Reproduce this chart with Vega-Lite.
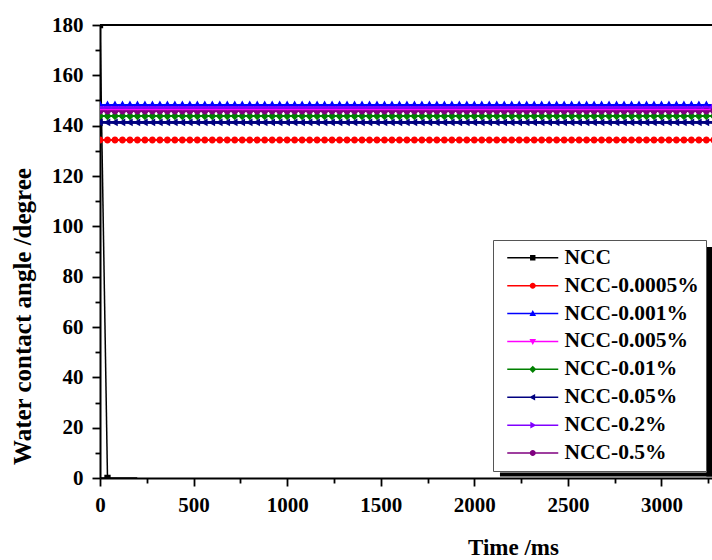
{
  "$schema": "https://vega.github.io/schema/vega-lite/v6.json",
  "width": 612,
  "height": 453,
  "autosize": {"type": "none"},
  "padding": {"left": 100, "top": 25, "right": 0, "bottom": 82},
  "background": "white",
  "config": {
    "view": {"stroke": null},
    "font": "Liberation Serif",
    "axis": {
      "domainColor": "black", "domainWidth": 2,
      "tickColor": "black", "tickWidth": 1.8,
      "labelColor": "black", "labelFont": "Liberation Serif", "labelFontWeight": "bold", "labelFontSize": 21,
      "titleFont": "Liberation Serif", "titleFontWeight": "bold", "titleColor": "black",
      "grid": false, "labelFlush": false, "labelOverlap": false, "format": "d", "zindex": 1
    }
  },
  "datasets": {
    "angles": [
      {"t": 0, "ncc": 180},
      {"t": 40, "ncc": 0},
      {"t":0,"p0005":134.3,"p001":148.3,"p005":146.3,"p01":143.8,"p05":141.3,"p2":147.2,"p5":145.8},
      {"t":40,"p0005":134.3,"p001":148.3,"p005":146.3,"p01":143.8,"p05":141.3,"p2":147.2,"p5":145.8},
      {"t":80,"p0005":134.3,"p001":148.3,"p005":146.3,"p01":143.8,"p05":141.3,"p2":147.2,"p5":145.8},
      {"t":120,"p0005":134.3,"p001":148.3,"p005":146.3,"p01":143.8,"p05":141.3,"p2":147.2,"p5":145.8},
      {"t":160,"p0005":134.3,"p001":148.3,"p005":146.3,"p01":143.8,"p05":141.3,"p2":147.2,"p5":145.8},
      {"t":200,"p0005":134.3,"p001":148.3,"p005":146.3,"p01":143.8,"p05":141.3,"p2":147.2,"p5":145.8},
      {"t":240,"p0005":134.3,"p001":148.3,"p005":146.3,"p01":143.8,"p05":141.3,"p2":147.2,"p5":145.8},
      {"t":280,"p0005":134.3,"p001":148.3,"p005":146.3,"p01":143.8,"p05":141.3,"p2":147.2,"p5":145.8},
      {"t":320,"p0005":134.3,"p001":148.3,"p005":146.3,"p01":143.8,"p05":141.3,"p2":147.2,"p5":145.8},
      {"t":360,"p0005":134.3,"p001":148.3,"p005":146.3,"p01":143.8,"p05":141.3,"p2":147.2,"p5":145.8},
      {"t":400,"p0005":134.3,"p001":148.3,"p005":146.3,"p01":143.8,"p05":141.3,"p2":147.2,"p5":145.8},
      {"t":440,"p0005":134.3,"p001":148.3,"p005":146.3,"p01":143.8,"p05":141.3,"p2":147.2,"p5":145.8},
      {"t":480,"p0005":134.3,"p001":148.3,"p005":146.3,"p01":143.8,"p05":141.3,"p2":147.2,"p5":145.8},
      {"t":520,"p0005":134.3,"p001":148.3,"p005":146.3,"p01":143.8,"p05":141.3,"p2":147.2,"p5":145.8},
      {"t":560,"p0005":134.3,"p001":148.3,"p005":146.3,"p01":143.8,"p05":141.3,"p2":147.2,"p5":145.8},
      {"t":600,"p0005":134.3,"p001":148.3,"p005":146.3,"p01":143.8,"p05":141.3,"p2":147.2,"p5":145.8},
      {"t":640,"p0005":134.3,"p001":148.3,"p005":146.3,"p01":143.8,"p05":141.3,"p2":147.2,"p5":145.8},
      {"t":680,"p0005":134.3,"p001":148.3,"p005":146.3,"p01":143.8,"p05":141.3,"p2":147.2,"p5":145.8},
      {"t":720,"p0005":134.3,"p001":148.3,"p005":146.3,"p01":143.8,"p05":141.3,"p2":147.2,"p5":145.8},
      {"t":760,"p0005":134.3,"p001":148.3,"p005":146.3,"p01":143.8,"p05":141.3,"p2":147.2,"p5":145.8},
      {"t":800,"p0005":134.3,"p001":148.3,"p005":146.3,"p01":143.8,"p05":141.3,"p2":147.2,"p5":145.8},
      {"t":840,"p0005":134.3,"p001":148.3,"p005":146.3,"p01":143.8,"p05":141.3,"p2":147.2,"p5":145.8},
      {"t":880,"p0005":134.3,"p001":148.3,"p005":146.3,"p01":143.8,"p05":141.3,"p2":147.2,"p5":145.8},
      {"t":920,"p0005":134.3,"p001":148.3,"p005":146.3,"p01":143.8,"p05":141.3,"p2":147.2,"p5":145.8},
      {"t":960,"p0005":134.3,"p001":148.3,"p005":146.3,"p01":143.8,"p05":141.3,"p2":147.2,"p5":145.8},
      {"t":1000,"p0005":134.3,"p001":148.3,"p005":146.3,"p01":143.8,"p05":141.3,"p2":147.2,"p5":145.8},
      {"t":1040,"p0005":134.3,"p001":148.3,"p005":146.3,"p01":143.8,"p05":141.3,"p2":147.2,"p5":145.8},
      {"t":1080,"p0005":134.3,"p001":148.3,"p005":146.3,"p01":143.8,"p05":141.3,"p2":147.2,"p5":145.8},
      {"t":1120,"p0005":134.3,"p001":148.3,"p005":146.3,"p01":143.8,"p05":141.3,"p2":147.2,"p5":145.8},
      {"t":1160,"p0005":134.3,"p001":148.3,"p005":146.3,"p01":143.8,"p05":141.3,"p2":147.2,"p5":145.8},
      {"t":1200,"p0005":134.3,"p001":148.3,"p005":146.3,"p01":143.8,"p05":141.3,"p2":147.2,"p5":145.8},
      {"t":1240,"p0005":134.3,"p001":148.3,"p005":146.3,"p01":143.8,"p05":141.3,"p2":147.2,"p5":145.8},
      {"t":1280,"p0005":134.3,"p001":148.3,"p005":146.3,"p01":143.8,"p05":141.3,"p2":147.2,"p5":145.8},
      {"t":1320,"p0005":134.3,"p001":148.3,"p005":146.3,"p01":143.8,"p05":141.3,"p2":147.2,"p5":145.8},
      {"t":1360,"p0005":134.3,"p001":148.3,"p005":146.3,"p01":143.8,"p05":141.3,"p2":147.2,"p5":145.8},
      {"t":1400,"p0005":134.3,"p001":148.3,"p005":146.3,"p01":143.8,"p05":141.3,"p2":147.2,"p5":145.8},
      {"t":1440,"p0005":134.3,"p001":148.3,"p005":146.3,"p01":143.8,"p05":141.3,"p2":147.2,"p5":145.8},
      {"t":1480,"p0005":134.3,"p001":148.3,"p005":146.3,"p01":143.8,"p05":141.3,"p2":147.2,"p5":145.8},
      {"t":1520,"p0005":134.3,"p001":148.3,"p005":146.3,"p01":143.8,"p05":141.3,"p2":147.2,"p5":145.8},
      {"t":1560,"p0005":134.3,"p001":148.3,"p005":146.3,"p01":143.8,"p05":141.3,"p2":147.2,"p5":145.8},
      {"t":1600,"p0005":134.3,"p001":148.3,"p005":146.3,"p01":143.8,"p05":141.3,"p2":147.2,"p5":145.8},
      {"t":1640,"p0005":134.3,"p001":148.3,"p005":146.3,"p01":143.8,"p05":141.3,"p2":147.2,"p5":145.8},
      {"t":1680,"p0005":134.3,"p001":148.3,"p005":146.3,"p01":143.8,"p05":141.3,"p2":147.2,"p5":145.8},
      {"t":1720,"p0005":134.3,"p001":148.3,"p005":146.3,"p01":143.8,"p05":141.3,"p2":147.2,"p5":145.8},
      {"t":1760,"p0005":134.3,"p001":148.3,"p005":146.3,"p01":143.8,"p05":141.3,"p2":147.2,"p5":145.8},
      {"t":1800,"p0005":134.3,"p001":148.3,"p005":146.3,"p01":143.8,"p05":141.3,"p2":147.2,"p5":145.8},
      {"t":1840,"p0005":134.3,"p001":148.3,"p005":146.3,"p01":143.8,"p05":141.3,"p2":147.2,"p5":145.8},
      {"t":1880,"p0005":134.3,"p001":148.3,"p005":146.3,"p01":143.8,"p05":141.3,"p2":147.2,"p5":145.8},
      {"t":1920,"p0005":134.3,"p001":148.3,"p005":146.3,"p01":143.8,"p05":141.3,"p2":147.2,"p5":145.8},
      {"t":1960,"p0005":134.3,"p001":148.3,"p005":146.3,"p01":143.8,"p05":141.3,"p2":147.2,"p5":145.8},
      {"t":2000,"p0005":134.3,"p001":148.3,"p005":146.3,"p01":143.8,"p05":141.3,"p2":147.2,"p5":145.8},
      {"t":2040,"p0005":134.3,"p001":148.3,"p005":146.3,"p01":143.8,"p05":141.3,"p2":147.2,"p5":145.8},
      {"t":2080,"p0005":134.3,"p001":148.3,"p005":146.3,"p01":143.8,"p05":141.3,"p2":147.2,"p5":145.8},
      {"t":2120,"p0005":134.3,"p001":148.3,"p005":146.3,"p01":143.8,"p05":141.3,"p2":147.2,"p5":145.8},
      {"t":2160,"p0005":134.3,"p001":148.3,"p005":146.3,"p01":143.8,"p05":141.3,"p2":147.2,"p5":145.8},
      {"t":2200,"p0005":134.3,"p001":148.3,"p005":146.3,"p01":143.8,"p05":141.3,"p2":147.2,"p5":145.8},
      {"t":2240,"p0005":134.3,"p001":148.3,"p005":146.3,"p01":143.8,"p05":141.3,"p2":147.2,"p5":145.8},
      {"t":2280,"p0005":134.3,"p001":148.3,"p005":146.3,"p01":143.8,"p05":141.3,"p2":147.2,"p5":145.8},
      {"t":2320,"p0005":134.3,"p001":148.3,"p005":146.3,"p01":143.8,"p05":141.3,"p2":147.2,"p5":145.8},
      {"t":2360,"p0005":134.3,"p001":148.3,"p005":146.3,"p01":143.8,"p05":141.3,"p2":147.2,"p5":145.8},
      {"t":2400,"p0005":134.3,"p001":148.3,"p005":146.3,"p01":143.8,"p05":141.3,"p2":147.2,"p5":145.8},
      {"t":2440,"p0005":134.3,"p001":148.3,"p005":146.3,"p01":143.8,"p05":141.3,"p2":147.2,"p5":145.8},
      {"t":2480,"p0005":134.3,"p001":148.3,"p005":146.3,"p01":143.8,"p05":141.3,"p2":147.2,"p5":145.8},
      {"t":2520,"p0005":134.3,"p001":148.3,"p005":146.3,"p01":143.8,"p05":141.3,"p2":147.2,"p5":145.8},
      {"t":2560,"p0005":134.3,"p001":148.3,"p005":146.3,"p01":143.8,"p05":141.3,"p2":147.2,"p5":145.8},
      {"t":2600,"p0005":134.3,"p001":148.3,"p005":146.3,"p01":143.8,"p05":141.3,"p2":147.2,"p5":145.8},
      {"t":2640,"p0005":134.3,"p001":148.3,"p005":146.3,"p01":143.8,"p05":141.3,"p2":147.2,"p5":145.8},
      {"t":2680,"p0005":134.3,"p001":148.3,"p005":146.3,"p01":143.8,"p05":141.3,"p2":147.2,"p5":145.8},
      {"t":2720,"p0005":134.3,"p001":148.3,"p005":146.3,"p01":143.8,"p05":141.3,"p2":147.2,"p5":145.8},
      {"t":2760,"p0005":134.3,"p001":148.3,"p005":146.3,"p01":143.8,"p05":141.3,"p2":147.2,"p5":145.8},
      {"t":2800,"p0005":134.3,"p001":148.3,"p005":146.3,"p01":143.8,"p05":141.3,"p2":147.2,"p5":145.8},
      {"t":2840,"p0005":134.3,"p001":148.3,"p005":146.3,"p01":143.8,"p05":141.3,"p2":147.2,"p5":145.8},
      {"t":2880,"p0005":134.3,"p001":148.3,"p005":146.3,"p01":143.8,"p05":141.3,"p2":147.2,"p5":145.8},
      {"t":2920,"p0005":134.3,"p001":148.3,"p005":146.3,"p01":143.8,"p05":141.3,"p2":147.2,"p5":145.8},
      {"t":2960,"p0005":134.3,"p001":148.3,"p005":146.3,"p01":143.8,"p05":141.3,"p2":147.2,"p5":145.8},
      {"t":3000,"p0005":134.3,"p001":148.3,"p005":146.3,"p01":143.8,"p05":141.3,"p2":147.2,"p5":145.8},
      {"t":3040,"p0005":134.3,"p001":148.3,"p005":146.3,"p01":143.8,"p05":141.3,"p2":147.2,"p5":145.8},
      {"t":3080,"p0005":134.3,"p001":148.3,"p005":146.3,"p01":143.8,"p05":141.3,"p2":147.2,"p5":145.8},
      {"t":3120,"p0005":134.3,"p001":148.3,"p005":146.3,"p01":143.8,"p05":141.3,"p2":147.2,"p5":145.8},
      {"t":3160,"p0005":134.3,"p001":148.3,"p005":146.3,"p01":143.8,"p05":141.3,"p2":147.2,"p5":145.8},
      {"t":3200,"p0005":134.3,"p001":148.3,"p005":146.3,"p01":143.8,"p05":141.3,"p2":147.2,"p5":145.8},
      {"t":3240,"p0005":134.3,"p001":148.3,"p005":146.3,"p01":143.8,"p05":141.3,"p2":147.2,"p5":145.8},
      {"t":3280,"p0005":134.3,"p001":148.3,"p005":146.3,"p01":143.8,"p05":141.3,"p2":147.2,"p5":145.8}
    ]
  },
  "resolve": {"axis": {"x": "independent", "y": "independent"}},
  "layer": [
    {
      "data": {"values": [{}]},
      "mark": {"type": "rule", "color": "black", "strokeWidth": 2},
      "encoding": {
        "y": {
          "datum": 180, "type": "quantitative",
          "scale": {"domain": [0, 180], "nice": false, "zero": false},
          "axis": {
            "orient": "left", "values": [10, 30, 50, 70, 90, 110, 130, 150, 170],
            "tickSize": 5, "labels": false, "domain": false, "title": null
          }
        }
      }
    },
    {
      "data": {"name": "angles"},
      "transform": [
        {"fold": ["ncc", "p0005", "p001", "p005", "p01", "p05", "p2", "p5"], "as": ["key", "v"]},
        {"filter": "isValid(datum.v)"}
      ],
      "mark": {"type": "line", "strokeWidth": 1.5, "clip": true},
      "encoding": {
        "x": {
          "field": "t", "type": "quantitative",
          "scale": {"domain": [0, 3270], "nice": false, "zero": false},
          "axis": {
            "orient": "bottom", "values": [0, 500, 1000, 1500, 2000, 2500, 3000],
            "tickSize": 8, "labelPadding": 8,
            "title": "Time /ms", "titleFontSize": 23,
            "titleX": 413, "titleY": 76, "titleAlign": "center", "titleBaseline": "alphabetic", "titleAnchor": null
          }
        },
        "y": {
          "field": "v", "type": "quantitative",
          "axis": {
            "orient": "left", "values": [0, 20, 40, 60, 80, 100, 120, 140, 160, 180],
            "tickSize": 8, "labelPadding": 9,
            "title": "Water contact angle /degree", "titleFontSize": 25,
            "titleX": -70, "titleY": 291, "titleAngle": -90, "titleAlign": "center", "titleBaseline": "alphabetic", "titleAnchor": null
          }
        },
        "stroke": {
          "field": "key", "type": "nominal",
          "scale": {
            "domain": ["ncc", "p0005", "p001", "p005", "p01", "p05", "p2", "p5"],
            "range": ["#000000", "#ff0000", "#0000ff", "#ff00ff", "#008000", "#000080", "#8000ff", "#800080"]
          },
          "legend": {
            "title": null, "orient": "none", "legendX": 393, "legendY": 215,
            "padding": 7, "symbolOffset": 22, "labelOffset": 21,
            "symbolSize": 36, "symbolStrokeWidth": 0, "rowPadding": 4.9,
            "fillColor": "white", "strokeColor": "#555555",
            "labelFont": "Liberation Serif", "labelFontWeight": "bold", "labelFontSize": 21.5,
            "labelColor": "black", "labelLimit": 300,
            "labelExpr": "datum.value == 'ncc' ? 'NCC' : datum.value == 'p0005' ? 'NCC-0.0005%' : datum.value == 'p001' ? 'NCC-0.001%' : datum.value == 'p005' ? 'NCC-0.005%' : datum.value == 'p01' ? 'NCC-0.01%' : datum.value == 'p05' ? 'NCC-0.05%' : datum.value == 'p2' ? 'NCC-0.2%' : 'NCC-0.5%'"
          }
        }
      }
    },
    {
      "data": {"name": "angles"},
      "transform": [
        {"fold": ["ncc", "p0005", "p001", "p005", "p01", "p05", "p2", "p5"], "as": ["key", "v"]},
        {"filter": "isValid(datum.v)"}
      ],
      "mark": {"type": "point", "filled": true, "opacity": 1, "size": 49, "clip": true},
      "encoding": {
        "x": {
          "field": "t", "type": "quantitative",
          "axis": {
            "orient": "bottom", "values": [250, 750, 1250, 1750, 2250, 2750, 3250],
            "tickSize": 5, "labels": false, "domain": false, "title": null
          }
        },
        "y": {"field": "v", "type": "quantitative", "axis": null},
        "color": {
          "field": "key", "type": "nominal",
          "scale": {
            "domain": ["ncc", "p0005", "p001", "p005", "p01", "p05", "p2", "p5"],
            "range": ["#000000", "#ff0000", "#0000ff", "#ff00ff", "#008000", "#000080", "#8000ff", "#800080"]
          },
          "legend": {
            "title": null, "orient": "none", "legendX": 393, "legendY": 215,
            "padding": 7, "symbolOffset": 22, "labelOffset": 21,
            "symbolSize": 36, "symbolStrokeWidth": 0, "rowPadding": 4.9,
            "fillColor": "white", "strokeColor": "#555555",
            "labelFont": "Liberation Serif", "labelFontWeight": "bold", "labelFontSize": 21.5,
            "labelColor": "black", "labelLimit": 300,
            "labelExpr": "datum.value == 'ncc' ? 'NCC' : datum.value == 'p0005' ? 'NCC-0.0005%' : datum.value == 'p001' ? 'NCC-0.001%' : datum.value == 'p005' ? 'NCC-0.005%' : datum.value == 'p01' ? 'NCC-0.01%' : datum.value == 'p05' ? 'NCC-0.05%' : datum.value == 'p2' ? 'NCC-0.2%' : 'NCC-0.5%'"
          }
        },
        "shape": {
          "field": "key", "type": "nominal",
          "scale": {
            "domain": ["ncc", "p0005", "p001", "p005", "p01", "p05", "p2", "p5"],
            "range": [
              "M-8.5,-0.25H8.5V0.25H-8.5ZM-0.9,-0.9H0.9V0.9H-0.9Z",
              "M-8.5,-0.25H8.5V0.25H-8.5ZM-1,0A1,1 0 1,1 1,0A1,1 0 1,1 -1,0Z",
              "M-8.5,-0.25H8.5V0.25H-8.5ZM0,-1.2L1.1,0.8H-1.1Z",
              "M-8.5,-0.25H8.5V0.25H-8.5ZM0,1.2L-1.1,-0.8H1.1Z",
              "M-8.5,-0.25H8.5V0.25H-8.5ZM0,-1.2L1.2,0L0,1.2L-1.2,0Z",
              "M-8.5,-0.25H8.5V0.25H-8.5ZM-1.2,0L0.8,-1.1V1.1Z",
              "M-8.5,-0.25H8.5V0.25H-8.5ZM1.2,0L-0.8,1.1V-1.1Z",
              "M-8.5,-0.25H8.5V0.25H-8.5ZM-1,0A1,1 0 1,1 1,0A1,1 0 1,1 -1,0Z"
            ]
          },
          "legend": {
            "title": null, "orient": "none", "legendX": 393, "legendY": 215,
            "padding": 7, "symbolOffset": 22, "labelOffset": 21,
            "symbolSize": 36, "symbolStrokeWidth": 0, "rowPadding": 4.9,
            "fillColor": "white", "strokeColor": "#555555",
            "labelFont": "Liberation Serif", "labelFontWeight": "bold", "labelFontSize": 21.5,
            "labelColor": "black", "labelLimit": 300,
            "labelExpr": "datum.value == 'ncc' ? 'NCC' : datum.value == 'p0005' ? 'NCC-0.0005%' : datum.value == 'p001' ? 'NCC-0.001%' : datum.value == 'p005' ? 'NCC-0.005%' : datum.value == 'p01' ? 'NCC-0.01%' : datum.value == 'p05' ? 'NCC-0.05%' : datum.value == 'p2' ? 'NCC-0.2%' : 'NCC-0.5%'"
          }
        }
      }
    },
    {
      "data": {"values": [{}]},
      "mark": {"type": "rect", "color": "black"},
      "encoding": {
        "x": {"datum": 2137, "type": "quantitative", "axis": null},
        "x2": {"datum": 3270},
        "y": {"datum": 0.6, "type": "quantitative", "axis": null},
        "y2": {"datum": 2.2}
      }
    },
    {
      "data": {"values": [{}]},
      "mark": {"type": "rect", "color": "black"},
      "encoding": {
        "x": {"datum": 3240, "type": "quantitative", "axis": null},
        "x2": {"datum": 3270},
        "y": {"datum": 0.6, "type": "quantitative", "axis": null},
        "y2": {"datum": 91.8}
      }
    }
  ]
}
